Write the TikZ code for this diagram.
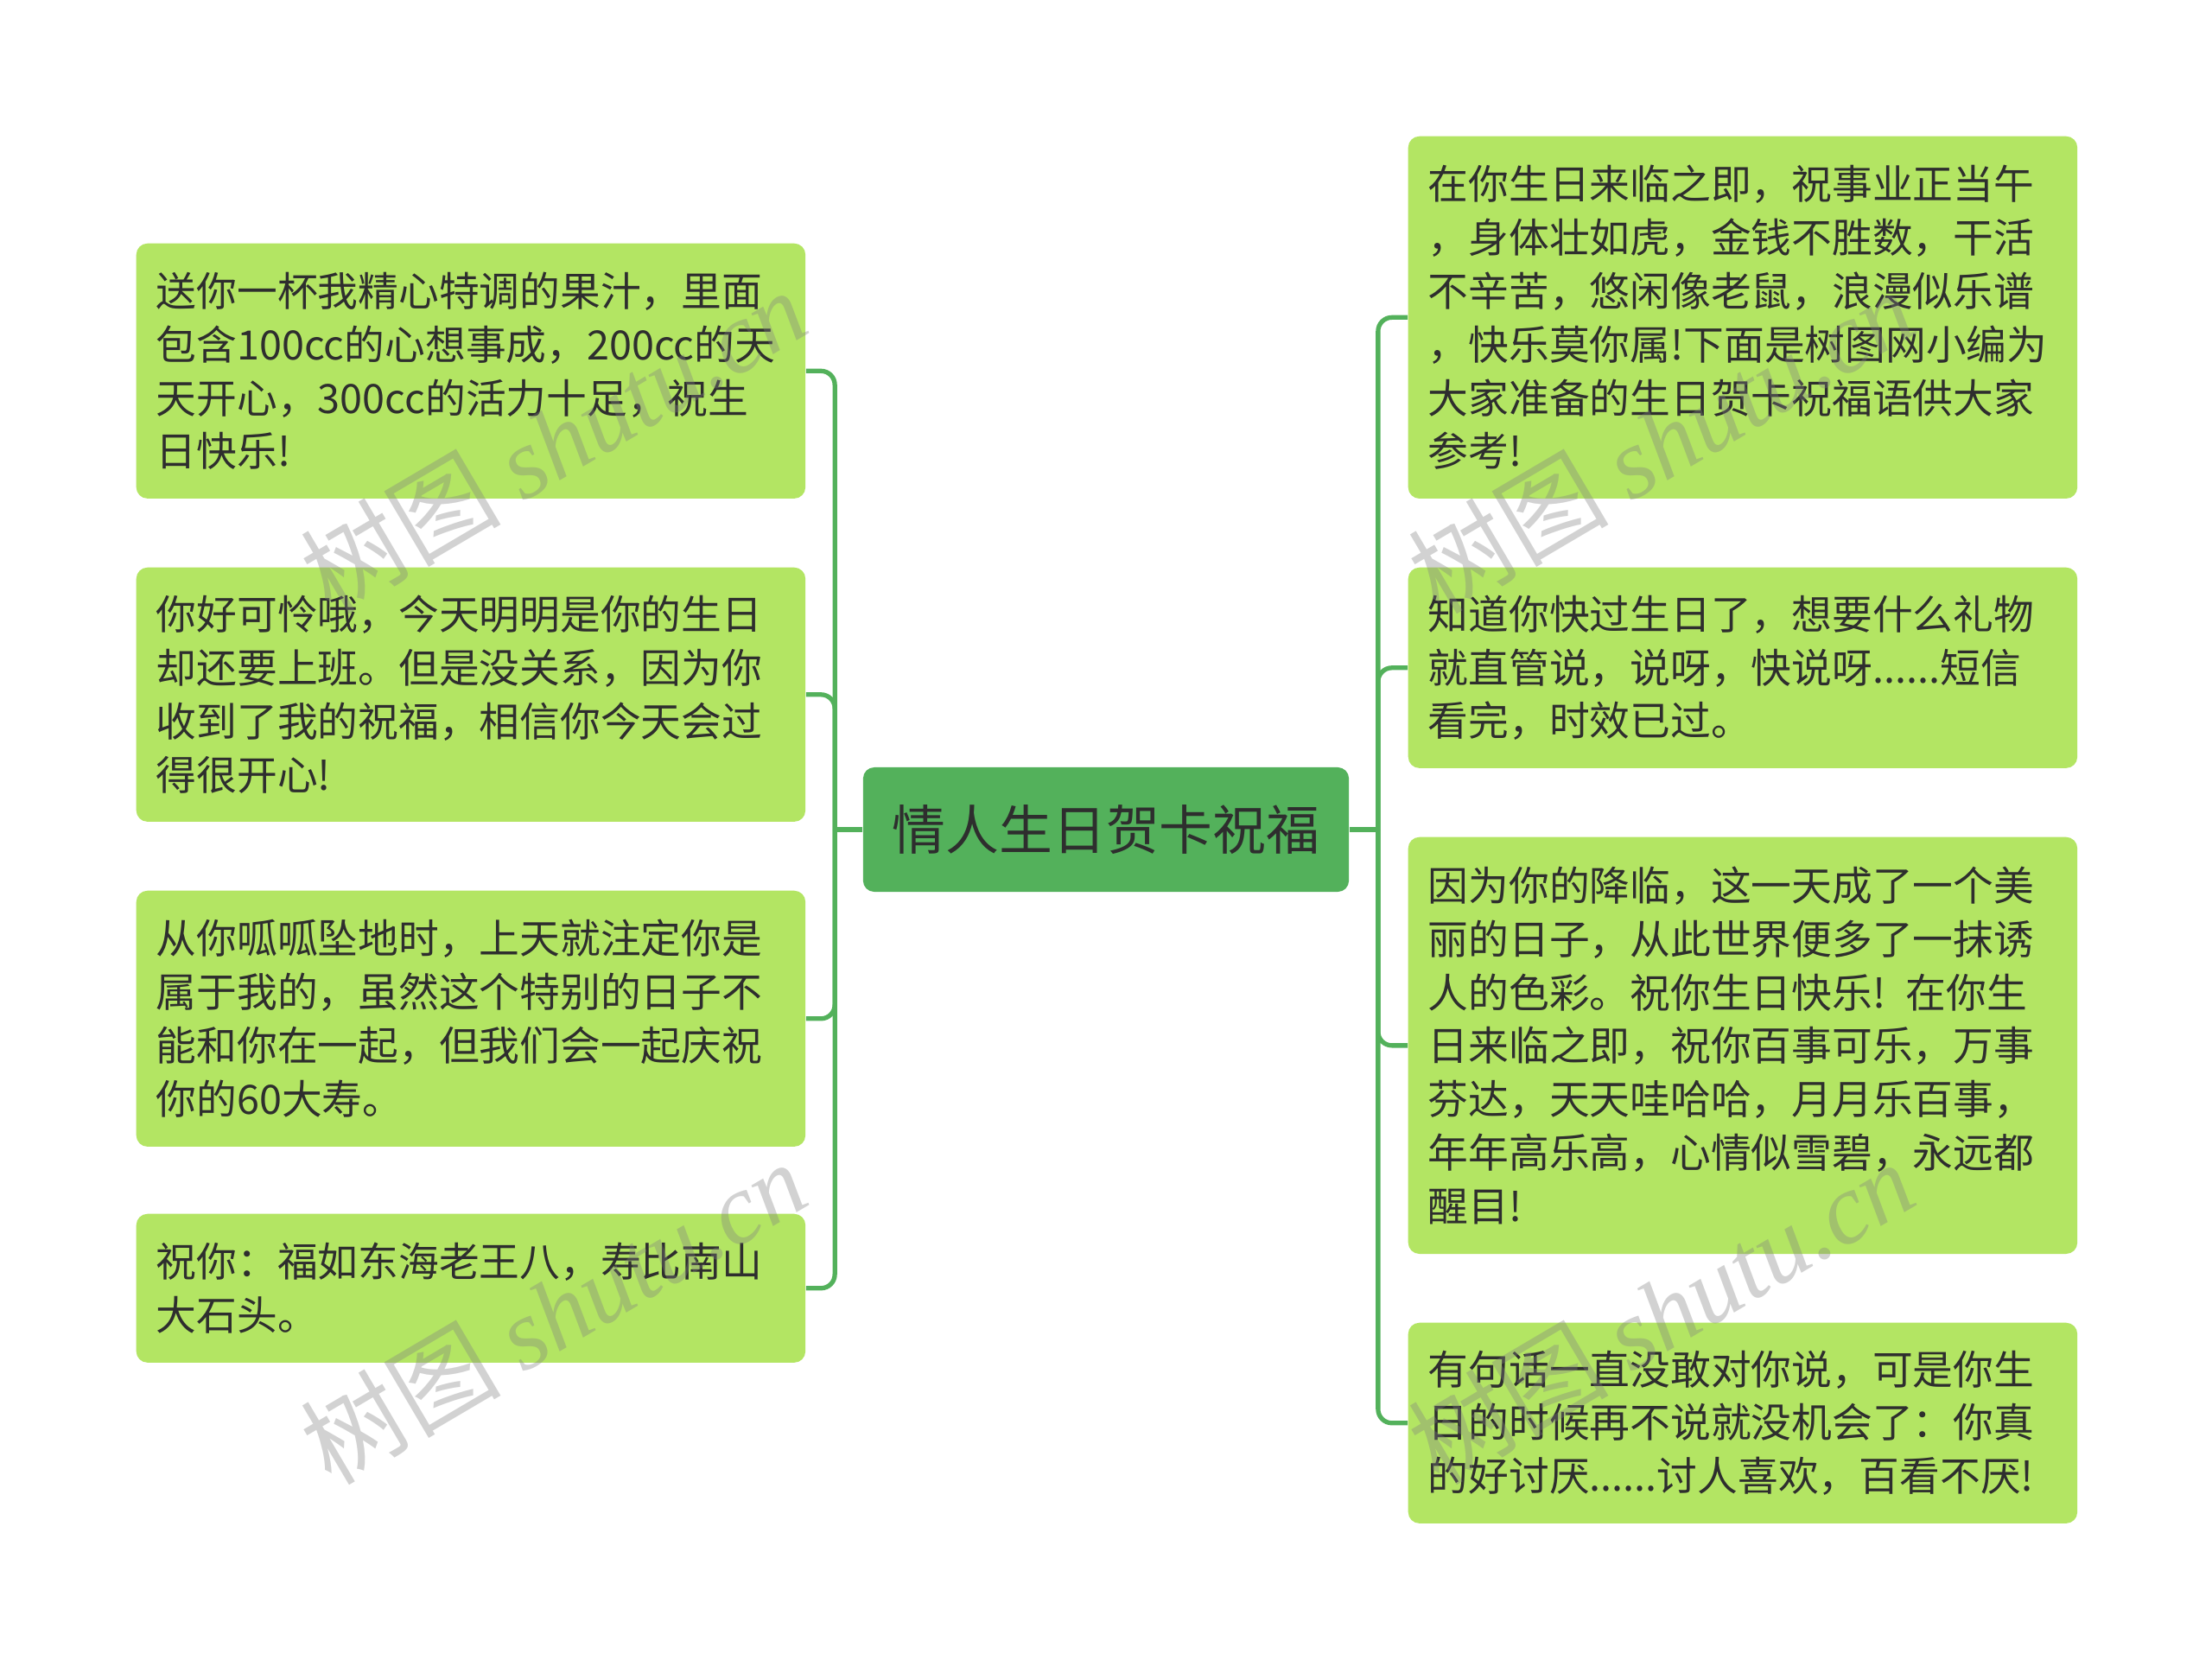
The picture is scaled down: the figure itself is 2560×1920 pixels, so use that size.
\documentclass[tikz,border=0pt]{standalone}
\usepackage{fontspec}
\setmainfont{Noto Sans CJK SC}
\newfontfamily\wmlatin{Liberation Serif}
\definecolor{leaf}{HTML}{B3E563}
\definecolor{root}{HTML}{53B15B}
\definecolor{wire}{HTML}{53B15B}
\definecolor{ink}{HTML}{2E2E2E}
\tikzset{
  leafbox/.style={anchor=north west, fill=leaf, draw=none, rounded corners=0.13cm,
    text width=7.28cm, inner xsep=0.23cm, inner ysep=0pt, align=left, text=ink,
    font=\fontsize{13.3pt}{17.6pt}\selectfont},
  rootbox/.style={fill=root, draw=none, rounded corners=0.13cm, text=ink,
    minimum width=5.62cm, minimum height=1.44cm, inner sep=0pt,
    font=\fontsize{17.6pt}{20pt}\selectfont},
  conn/.style={draw=wire, line width=1.5pt, rounded corners=0.16cm},
  wm/.style={text=gray, opacity=0.35, rotate=30.5, inner sep=0pt,
    font=\fontsize{33pt}{36pt}\selectfont}
}
\begin{document}
\begin{tikzpicture}[x=0.01cm, y=-0.01cm]
\fill[white] (0,0) rectangle (2560,1920);
\useasboundingbox (0,0) rectangle (2560,1920);

\node[rootbox] (c) at (1280,960) {情人生日贺卡祝福};

\node[leafbox, minimum height=2.95cm] (L1) at (157,281) {送你一杯我精心特调的果汁，里面\\包含100cc的心想事成，200cc的天\\天开心，300cc的活力十足，祝生\\日快乐!};
\node[leafbox, minimum height=2.94cm] (L2) at (157,656) {你好可怜哦，今天明明是你的生日\\却还要上班。但是没关系，因为你\\收到了我的祝福，相信你今天会过\\得很开心!};
\node[leafbox, minimum height=2.96cm] (L3) at (157,1030) {从你呱呱坠地时，上天就注定你是\\属于我的，虽然这个特别的日子不\\能和你在一起，但我们会一起庆祝\\你的60大寿。};
\node[leafbox, minimum height=1.72cm] (L4) at (157,1404) {祝你：福如东海老王八，寿比南山\\大石头。};

\node[leafbox, minimum height=4.19cm] (R1) at (1629,157) {在你生日来临之即，祝事业正当午\\，身体壮如虎，金钱不胜数，干活\\不辛苦，悠闲像老鼠，浪漫似乐谱\\，快乐莫你属!下面是树图网小编为\\大家准备的生日贺卡祝福语供大家\\参考!};
\node[leafbox, minimum height=2.32cm] (R2) at (1629,656) {知道你快过生日了，想要什么礼物\\就直管说，说呀，快说呀......短信\\看完，时效已过。};
\node[leafbox, minimum height=4.82cm] (R3) at (1629,968) {因为你的降临，这一天成了一个美\\丽的日子，从此世界便多了一抹诱\\人的色彩。祝你生日快乐! 在你生\\日来临之即，祝你百事可乐，万事\\芬达，天天哇哈哈，月月乐百事，\\年年高乐高，心情似雪碧，永远都\\醒目!};
\node[leafbox, minimum height=2.32cm] (R4) at (1629,1530) {有句话一直没敢对你说，可是你生\\日的时候再不说就没机会了：你真\\的好讨厌......讨人喜欢，百看不厌!};

\draw[conn] (c.west) -- ++(-32,0) coordinate (lt);
\draw[conn] (c.east) -- ++(33,0) coordinate (rt);
\foreach \n in {L1,L2,L3,L4} \draw[conn] (lt) |- (\n.east);
\foreach \n in {R1,R2,R3,R4} \draw[conn] (rt) |- (\n.west);

\node[wm] (w1) at (640,510) {树图 {\wmlatin\itshape shutu.cn}};
\node[wm] (w2) at (640,1518) {树图 {\wmlatin\itshape shutu.cn}};
\node[wm] (w3) at (1922,510) {树图 {\wmlatin\itshape shutu.cn}};
\node[wm] (w4) at (1922,1518) {树图 {\wmlatin\itshape shutu.cn}};
\end{tikzpicture}
\end{document}
